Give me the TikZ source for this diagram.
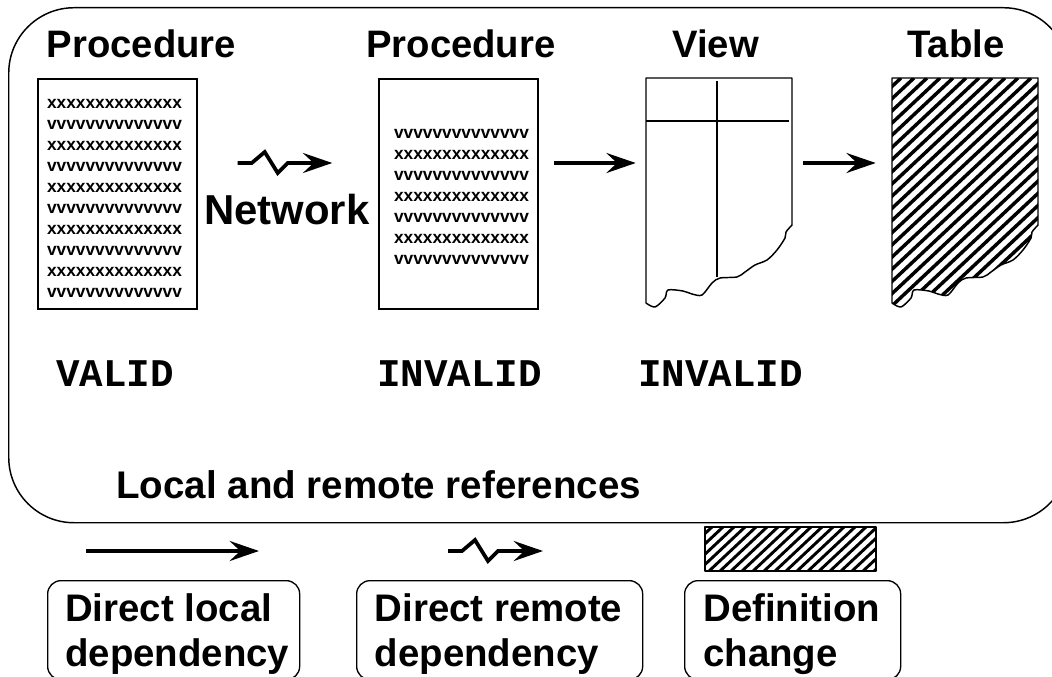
\documentclass[tikz,border=0pt]{standalone}
\usepackage{fontspec}
\setmainfont{Liberation Sans}
\newfontfamily\codefont{Liberation Mono}
\usetikzlibrary{arrows.meta}

\newcommand{\xrow}{xxxxxxxxxxxxxx}
\newcommand{\vrow}{vvvvvvvvvvvvvv}
\newcommand{\sheetoutline}{(0,0) -- (146,0) -- plot[smooth, tension=0.5] coordinates {(146,147) (140,154) (139,160) (131,172) (121,182) (109,187) (99,194) (91,199) (74,200) (66,205) (56,217) (46,216) (37,213) (22,212) (19,220) (9,229) (0,225)} -- cycle}
\newcommand{\hatchlines}[2]{\foreach \d in {-260,#1,...,180} {\draw[line width=#2] (\d,240) -- ++(256,-240);}}

\tikzset{
  title/.style={font=\bfseries\fontsize{28.7}{30}\selectfont, anchor=base west, inner sep=0pt},
  state/.style={font=\codefont\bfseries\fontsize{29.4}{30}\selectfont, anchor=base west, inner sep=0pt},
  listing/.style={draw, line width=1.1pt, minimum width=119.25pt, minimum height=172.5pt, inner sep=0pt},
  listingtext/.style={inner sep=0pt, align=left, font=\bfseries\fontsize{13}{15.75}\selectfont},
  legendbox/.style={draw, line width=1pt, rounded corners=10pt, anchor=north west, minimum height=74.25pt, inner sep=0pt},
  legendtext/.style={anchor=north west, align=left, inner sep=0pt, font=\bfseries\fontsize{28.8}{33.75}\selectfont},
  sheetline/.style={line width=1.1pt, line join=round},
  flow/.style={line width=2.8pt, -{Stealth[length=22pt, width=15pt, inset=8pt]}},
  netflow/.style={flow, to path={(\tikztostart) -- ++(14,0) -- ++(13,-11) -- ++(13,21) -- ++(10,-10) -- (\tikztotarget)}}
}

\begin{document}
\begin{tikzpicture}[x=0.75pt, y=-0.75pt]
  \useasboundingbox (0,0) rectangle (1052,677);
  \node[draw, line width=1.1pt, rounded corners=49pt, minimum width=795pt, minimum height=386.25pt, anchor=north west, inner sep=0pt] (frame) at (8,7) {};

  \node[title] (titlelocal) at (46.5,58) {Procedure};
  \node[title] (titleremote) at (366,58) {Procedure};
  \node[title] (titleview) at (672,58) {View};
  \node[title] (titletable) at (907,58) {Table};

  \node[listing] (proclocal) at (117.5,194) {};
  \node[listingtext] (codelocal) at (114.5,198) {\xrow\\ \vrow\\ \xrow\\ \vrow\\ \xrow\\ \vrow\\ \xrow\\ \vrow\\ \xrow\\ \vrow};
  \node[listing] (procremote) at (458.5,194) {};
  \node[listingtext] (coderemote) at (461.5,197) {\vrow\\ \xrow\\ \vrow\\ \xrow\\ \vrow\\ \xrow\\ \vrow};
  \node[minimum width=109.5pt, minimum height=172.5pt, inner sep=0pt] (viewsheet) at (719,194) {};
  \node[minimum width=109.5pt, minimum height=172.5pt, inner sep=0pt] (tablesheet) at (965,194) {};

  \begin{scope}[shift={(646,78)}]
    \draw[sheetline] \sheetoutline;
    \draw[sheetline] (71,3) -- (71,199);
    \draw[sheetline] (0,43) -- (143,43);
  \end{scope}
  \begin{scope}[shift={(892,78)}]
    \begin{scope}
      \clip \sheetoutline;
      \hatchlines{-247}{2.6pt}
    \end{scope}
    \draw[sheetline] \sheetoutline;
  \end{scope}

  \draw[netflow] ([xshift=30pt, yshift=23.25pt]proclocal.east) to ([xshift=-34.5pt, yshift=23.25pt]procremote.west);
  \node[font=\bfseries\fontsize{31.4}{33}\selectfont, anchor=base west, inner sep=0pt] (network) at (204,224) {Network};
  \draw[flow] ([xshift=11.25pt, yshift=23.25pt]procremote.east) -- ([xshift=-7.5pt, yshift=23.25pt]viewsheet.west);
  \draw[flow] ([xshift=8.25pt, yshift=23.25pt]viewsheet.east) -- ([xshift=-12pt, yshift=23.25pt]tablesheet.west);

  \node[state] (statelocal) at (56,386) {VALID};
  \node[state] (stateremote) at (377,386) {INVALID};
  \node[state] (stateview) at (638,386) {INVALID};
  \node[font=\bfseries\fontsize{28.9}{30}\selectfont, anchor=base west, inner sep=0pt] (caption) at (116,498) {Local and remote references};

  \node[legendbox, minimum width=189pt] (legendlocal) at (47,580) {};
  \node[legendtext] (labellocal) at (65,593) {Direct local\\dependency};
  \node[legendbox, minimum width=214.5pt] (legendremote) at (356,580) {};
  \node[legendtext] (labelremote) at (374.5,593) {Direct remote\\dependency};
  \node[legendbox, minimum width=162pt] (legendchange) at (684,580) {};
  \node[legendtext] (labelchange) at (703,593) {Definition\\change};

  \coordinate (localfrom) at (86,551);
  \coordinate (localto) at (259,551);
  \coordinate (remotefrom) at (448,551);
  \coordinate (remoteto) at (543,551);
  \draw[flow] (localfrom) -- (localto);
  \draw[netflow] (remotefrom) to (remoteto);

  \begin{scope}[shift={(705,527)}]
    \begin{scope}
      \clip (0,0) rectangle (171,44);
      \hatchlines{-249}{2.2pt}
    \end{scope}
    \draw[sheetline] (0,0) rectangle (171,44);
  \end{scope}
\end{tikzpicture}
\end{document}
